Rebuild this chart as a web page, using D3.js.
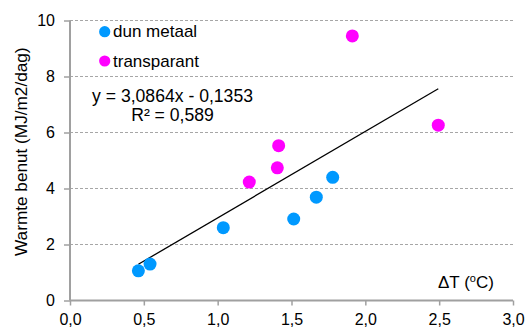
<!DOCTYPE html>
<html>
<head>
<meta charset="utf-8">
<script src="https://cdn.jsdelivr.net/npm/d3@7"></script>
<style>
  html, body { margin: 0; padding: 0; background: #fff; }
  svg { display: block; font-family: "Liberation Sans", Arial, sans-serif; }
</style>
</head>
<body>
<svg id="chart" width="527" height="328"></svg>
<script>
// Measurements: temperature difference vs. heat used
const metalX = [0.463, 0.542, 1.038, 1.515, 1.668, 1.779];
const metalY = [1.06, 1.30, 2.60, 2.91, 3.69, 4.40];
const clearX = [1.214, 1.404, 1.413, 1.912, 2.494];
const clearY = [4.23, 4.74, 5.53, 9.45, 6.26];
const seriesNames = ["dun metaal", "transparant"];
const seriesColors = ["#0099ff", "#ff00ff"];
const slope = 3.0864, intercept = -0.1353;
const equationLines = ["y = 3,0864x - 0,1353", "R\u00b2 = 0,589"];
const xTicks = [0, 0.5, 1, 1.5, 2, 2.5, 3];
const yTicks = [0, 2, 4, 6, 8, 10];

const svg = d3.select("#chart");
const plotLeft = 70, plotRight = 513, plotTop = 20.5, plotBottom = 300.5;
const x = d3.scaleLinear().domain([0, 3]).range([plotLeft, plotRight]);
const y = d3.scaleLinear().domain([0, 10]).range([plotBottom, plotTop]);
const fmt = v => d3.format(".1f")(v).replace(".", ",");

// Horizontal grid lines
svg.append("g").selectAll("line").data(yTicks.filter(d => d > 0)).join("line")
  .attr("x1", plotLeft).attr("x2", plotRight)
  .attr("y1", d => y(d)).attr("y2", d => y(d))
  .attr("stroke", "#a6a6a6").attr("stroke-width", 1)
  .attr("stroke-dasharray", "3,2");

// Axes
const axisColor = "#a0a0a0";
const yAxis = svg.append("g").attr("transform", `translate(${plotLeft},0)`)
  .call(d3.axisLeft(y).tickValues(yTicks).tickFormat(d3.format("d")).tickSize(6).tickPadding(9));
const xAxis = svg.append("g").attr("transform", `translate(0,${plotBottom})`)
  .call(d3.axisBottom(x).tickValues(xTicks).tickFormat(fmt).tickSize(5).tickPadding(8));
[yAxis, xAxis].forEach(g => {
  g.select(".domain").attr("stroke", axisColor).attr("stroke-width", 2)
    .attr("d", g === yAxis ? `M0,${plotTop}V${plotBottom}` : `M${plotLeft},0H${plotRight}`);
  g.selectAll(".tick line").attr("stroke", axisColor).attr("stroke-width", 1.5);
  g.selectAll(".tick text").attr("fill", "#000").attr("font-size", 16)
    .attr("font-family", "Liberation Sans, Arial, sans-serif");
});

// Trend line over the range of all measurements
const allX = metalX.concat(clearX);
const [xMin, xMax] = d3.extent(allX);
svg.append("line")
  .attr("x1", x(xMin)).attr("y1", y(slope * xMin + intercept))
  .attr("x2", x(xMax)).attr("y2", y(slope * xMax + intercept))
  .attr("stroke", "#000").attr("stroke-width", 1.3);

// Points
const series = [
  { xs: metalX, ys: metalY, color: seriesColors[0] },
  { xs: clearX, ys: clearY, color: seriesColors[1] }
];
series.forEach(s => {
  svg.append("g").selectAll("circle").data(s.xs.map((v, i) => [v, s.ys[i]])).join("circle")
    .attr("cx", d => x(d[0])).attr("cy", d => y(d[1])).attr("r", 6.5)
    .attr("fill", s.color);
});

// Legend
const legend = svg.append("g");
seriesNames.forEach((name, i) => {
  const cy = 31.7 + i * 29.3;
  legend.append("circle").attr("cx", 104.7).attr("cy", cy).attr("r", 5.6).attr("fill", seriesColors[i]);
  legend.append("text").attr("x", 113).attr("y", cy + 5.5).attr("font-size", 17).text(name);
});

// Regression equation
svg.append("g").selectAll("text").data(equationLines).join("text")
  .attr("x", 172.5).attr("y", (d, i) => 101.5 + i * 19)
  .attr("text-anchor", "middle").attr("font-size", 17.6).text(d => d);

// Axis titles
svg.append("text")
  .attr("transform", `translate(26.5,151.7) rotate(-90)`)
  .attr("text-anchor", "middle").attr("font-size", 17.2)
  .text("Warmte benut (MJ/m2/dag)");

const xt = svg.append("text").attr("x", 438).attr("y", 288).attr("font-size", 17);
xt.append("tspan").text("\u0394T (");
xt.append("tspan").attr("font-size", 11).attr("dy", -6).text("o");
xt.append("tspan").attr("dy", 6).text("C)");
</script>
</body>
</html>
